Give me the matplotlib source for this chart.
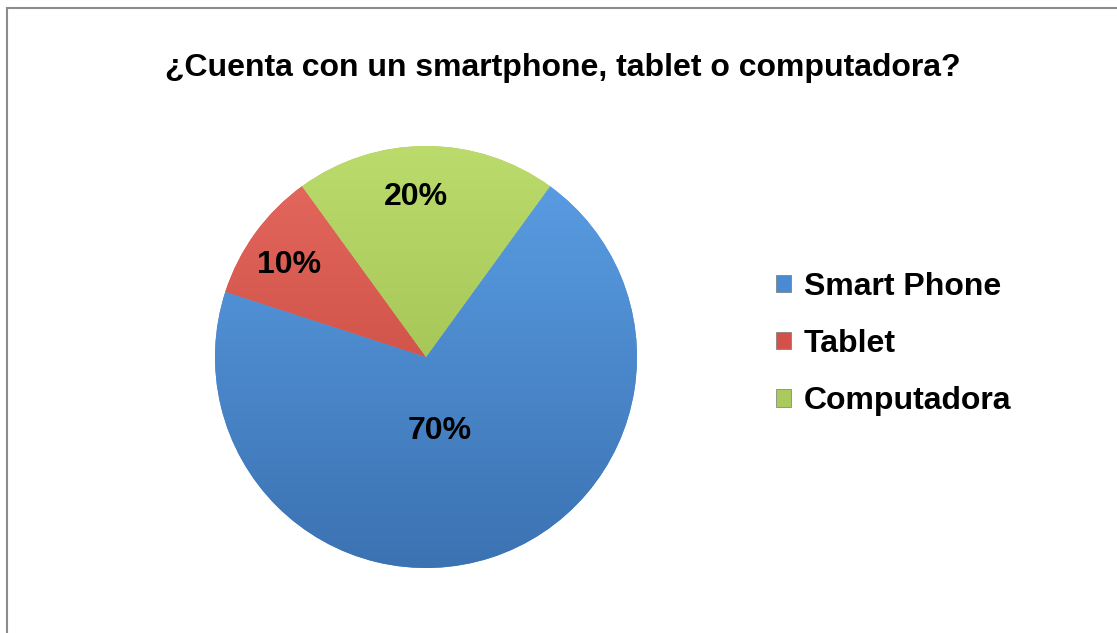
import numpy as np
import matplotlib.pyplot as plt
from matplotlib.patches import Rectangle, Patch

# data
labels = ['Smart Phone', 'Tablet', 'Computadora']
values = [70, 10, 20]
pct_text = ['70%', '10%', '20%']
colors = ['#4A8AD2', '#D4514A', '#AACB5B']
tops = ['#5CA0E6', '#E66A60', '#BBDB6C']
bottoms = ['#3B72B2', '#BE3F36', '#93B546']
label_dist = [0.37, 0.74, 0.76]

plt.rcParams['font.family'] = ['Liberation Sans', 'DejaVu Sans']

W, H = 1117, 633
fig = plt.figure(figsize=(W / 100, H / 100), dpi=100)
fig.patch.set_facecolor('white')

# chart border (left and top edges visible)
fig.patches.append(Rectangle((7 / W, -0.1), 1.2, 1 - 8 / H + 0.1, transform=fig.transFigure,
                             fill=False, edgecolor='#8c8c8c', linewidth=1.5))

fig.text(563 / W, 1 - 68 / H, '¿Cuenta con un smartphone, tablet o computadora?',
         ha='center', va='center', fontsize=23, fontweight='bold')

# pie
cx, cy, r = 426, 357, 211
ax = fig.add_axes([(cx - r) / W, (H - cy - r) / H, 2 * r / W, 2 * r / H])
wedges, _ = ax.pie(values, colors=colors, startangle=54, counterclock=False, radius=1,
                   wedgeprops=dict(edgecolor='none'))
ax.set_xlim(-1, 1)
ax.set_ylim(-1, 1)
ax.set_aspect('equal')
ax.axis('off')

# vertical shading inside each wedge
grad = np.linspace(0, 1, 256).reshape(-1, 1)
for w, t, b in zip(wedges, tops, bottoms):
    c1 = np.array(plt.matplotlib.colors.to_rgb(t))
    c2 = np.array(plt.matplotlib.colors.to_rgb(b))
    img = c1 * (1 - grad[..., None]) + c2 * grad[..., None]
    img = np.repeat(img, 2, axis=1)
    im = ax.imshow(img, extent=[-1, 1, -1, 1], aspect='auto', zorder=2)
    im.set_clip_path(w)
    w.set_zorder(1)

for w, txt, d in zip(wedges, pct_text, label_dist):
    ang = np.deg2rad((w.theta1 + w.theta2) / 2)
    ax.text(d * np.cos(ang) - 0.05, d * np.sin(ang), txt, ha='center', va='center',
            fontsize=23, fontweight='bold', zorder=5)

handles = [Patch(facecolor=c, edgecolor='#777777', linewidth=0.5) for c in colors]
fig.legend(handles, labels, loc='center left', bbox_to_anchor=(747 / W, 1 - 344 / H),
           frameon=False, prop=dict(size=23, weight='bold'),
           handlelength=0.47, handleheight=0.47, handletextpad=0.4, labelspacing=0.85)

fig.savefig('out.png', dpi=100)
